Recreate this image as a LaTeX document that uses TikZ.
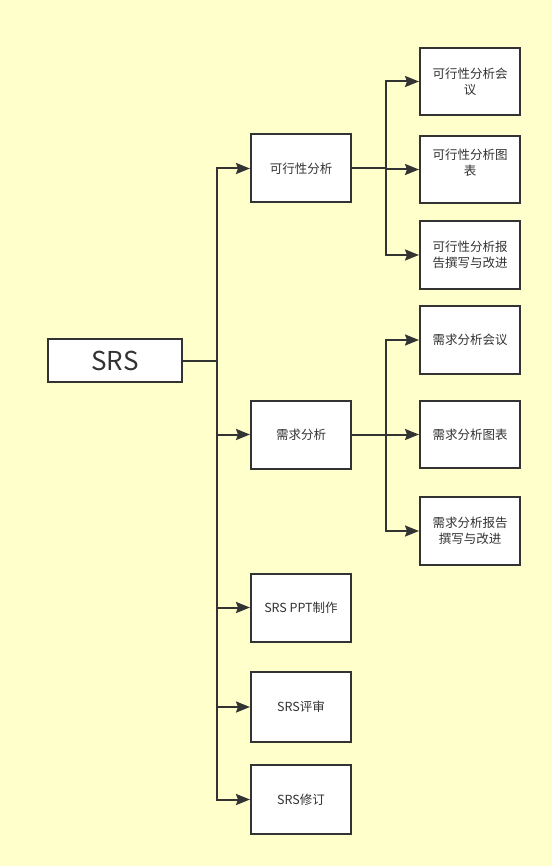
\documentclass[tikz,border=0pt]{standalone}
\usepackage{fontspec}
\setmainfont{Noto Sans CJK SC}
\usetikzlibrary{arrows.meta}
\definecolor{bg}{HTML}{FFFFCC}
\definecolor{ln}{HTML}{333333}
\begin{document}
\begin{tikzpicture}[x=1pt,y=-1pt,
  box/.style={draw=ln,line width=2pt,fill=white,minimum width=100pt,minimum height=68pt,inner sep=0pt,align=center,font=\fontsize{12.5}{16}\selectfont,text=ln},
  conn/.style={draw=ln,line width=2pt,-{Stealth[length=14pt,width=11pt,inset=2pt]}}]
\fill[bg] (0,0) rectangle (552,866);
\useasboundingbox (0,0) rectangle (552,866);
\node[box,minimum width=134pt,minimum height=43pt,font=\fontsize{26}{30}\selectfont] (srs) at (115,360.5) {SRS};
\node[box] (kx) at (301,168.5) {可行性分析};
\node[box] (xq) at (301,434.5) {需求分析};
\node[box] (ppt) at (301,607.5) {SRS PPT制作};
\node[box,minimum height=70pt] (ps) at (301,707) {SRS评审};
\node[box,minimum height=69pt] (xd) at (301,799.5) {SRS修订};
\node[box,minimum height=67pt] (k1) at (470,81.5) {可行性分析会\\议};
\node[box,minimum height=67pt] (k2) at (470,169.5) {};
\node[font=\fontsize{12.5}{16}\selectfont,text=ln,align=center] (k2t) at (470,162.5) {可行性分析图\\表};
\node[box] (k3) at (470,255) {可行性分析报\\告撰写与改进};
\node[box] (x1) at (470,340) {需求分析会议};
\node[box,minimum height=67pt] (x2) at (470,434.5) {需求分析图表};
\node[box] (x3) at (470,531) {需求分析报告\\撰写与改进};
\foreach \t in {kx,xq,ppt,ps,xd}
  \draw[conn] (srs.east) -- ++(34,0) |- (\t.west);
\foreach \t in {k1,k2,k3}
  \draw[conn] (kx.east) -- ++(34,0) |- (\t.west);
\foreach \t in {x1,x2,x3}
  \draw[conn] (xq.east) -- ++(34,0) |- (\t.west);
\end{tikzpicture}
\end{document}
